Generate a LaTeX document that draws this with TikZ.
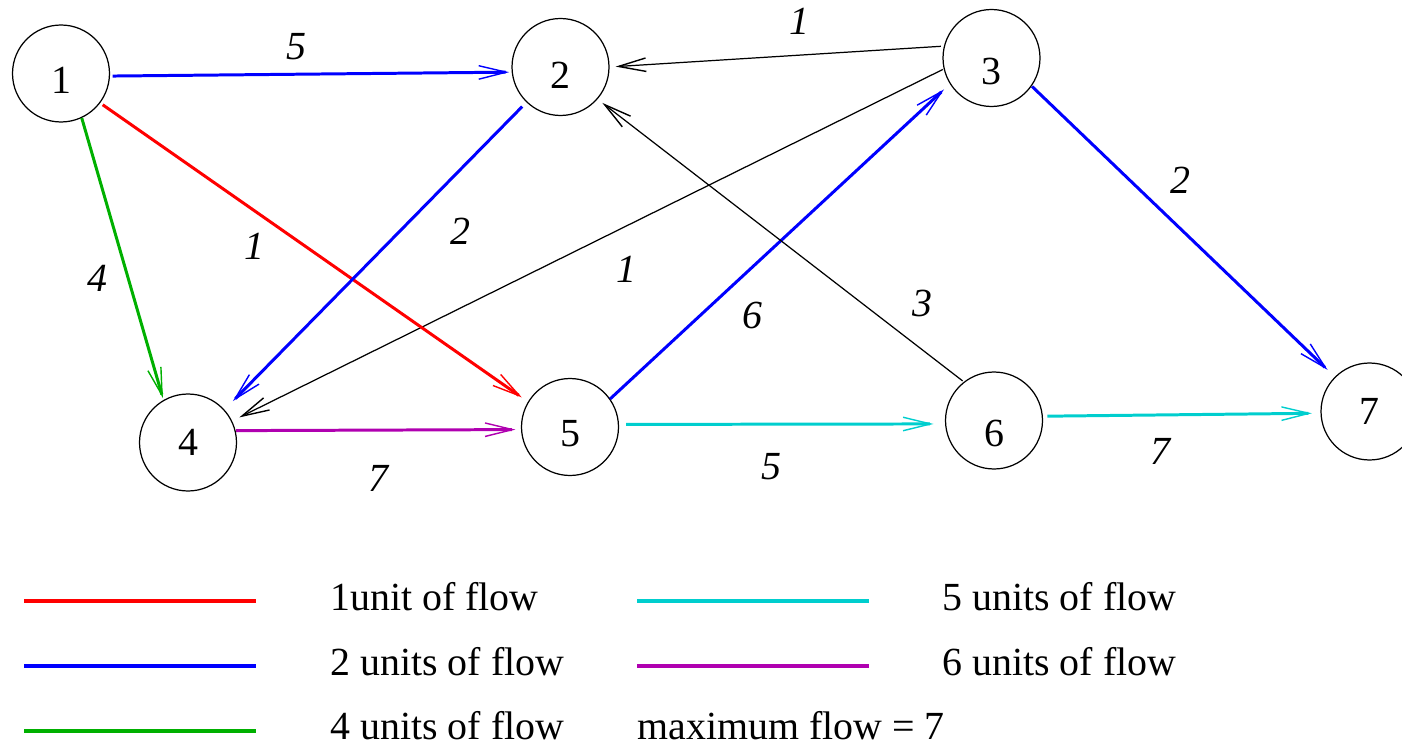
\documentclass[tikz,border=0pt]{standalone}
\usepackage{fontspec}
\setmainfont{Liberation Serif}
\usepackage{tikz}
\usetikzlibrary{arrows.meta}
\definecolor{flowgreen}{RGB}{0,176,0}
\definecolor{flowcyan}{RGB}{0,206,206}
\definecolor{flowpurple}{RGB}{176,0,176}
\begin{document}
\begin{tikzpicture}[x=0.02cm, y=-0.02cm,
        font=\fontsize{22.7pt}{27pt}\selectfont,
        vertex/.style={circle, draw, line width=0.7pt, minimum size=1.94cm, inner sep=0pt, text height=#1, text depth=0pt},
        vertex/.default=0.54cm,
        elabel/.style={font=\fontsize{22.7pt}{27pt}\selectfont\itshape, inner sep=0pt},
        ltext/.style={anchor=base west, inner sep=0pt},
        barb/.style={-{Straight Barb[length=0.55cm, width=0.27cm, line width=0.8pt]}},
        thinflow/.style={barb, line width=0.7pt},
        flow/.style={barb, line width=1.7pt, draw=#1},
        sample/.style={line width=1.8pt, draw=#1}]
    \useasboundingbox (0,0) rectangle (1402,746);
    \node[vertex=0.80cm] (n1) at (61,73.5) {1};
    \node[vertex=0.86cm] (n2) at (560.5,67) {2};
    \node[vertex=1.06cm] (n3) at (991.5,58) {3};
    \node[vertex] (n4) at (188,442.5) {4};
    \node[vertex=0.80cm] (n5) at (570,427) {5};
    \node[vertex=1.04cm] (n6) at (994,420.5) {6};
    \node[vertex] (n7) at (1369.5,411.5) {7};
    \draw[flow=blue, shorten <=0.05cm, shorten >=0.05cm] (n1.-3.4) -- (n2.186);
    \draw[thinflow, shorten <=0.06cm, shorten >=0.12cm] (n3.166) -- (n2.0.3);
    \draw[thinflow, shorten <=0.02cm, shorten >=0.16cm] (n3.193) -- (n4.26);
    \draw[flow=blue, shorten >=0.16cm] (n5.35) -- (n3.212);
    \draw[thinflow, shorten <=0.03cm, shorten >=0.12cm] (n6.128) -- (n2.-41);
    \draw[flow=red, shorten <=0.06cm, shorten >=0.15cm] (n1.-37) -- (n5.149);
    \draw[flow=flowgreen, shorten >=0.04cm] (n1.-65) -- (n4.120);
    \draw[flow=blue, shorten <=0.12cm, shorten >=0.24cm] (n2.226) -- (n4.42);
    \draw[flow=flowpurple, shorten <=0.01cm, shorten >=0.11cm] (n4.14) -- (n5.183);
    \draw[flow=flowcyan, shorten <=0.14cm, shorten >=0.23cm] (n5.3) -- (n6.184);
    \draw[flow=flowcyan, shorten <=0.09cm, shorten >=0.17cm] (n6.5) -- (n7.182.5);
    \draw[flow=blue, shorten <=0.01cm, shorten >=0.2cm] (n3.-35) -- (n7.135);
    \node[elabel] (c12) at (296.5,47) {5};
    \node[elabel] (c32) at (799,21.7) {1};
    \node[elabel] (c15) at (254.3,246.7) {1};
    \node[elabel] (c14) at (97.7,278.3) {4};
    \node[elabel] (c24) at (460.7,231.7) {2};
    \node[elabel] (c34) at (626.7,269.3) {1};
    \node[elabel] (c53) at (752.3,315) {6};
    \node[elabel] (c62) at (922.7,303.3) {3};
    \node[elabel] (c37) at (1180,180) {2};
    \node[elabel] (c45) at (378.6,478) {7};
    \node[elabel] (c56) at (771.7,466.7) {5};
    \node[elabel] (c67) at (1160.7,451.7) {7};
    \draw[sample=red] (24,601) -- (256,601);
    \draw[sample=blue] (24,666) -- (256,666);
    \draw[sample=flowgreen] (24,731) -- (256,731);
    \draw[sample=flowcyan] (637,601) -- (869,601);
    \draw[sample=flowpurple] (637,666) -- (869,666);
    \node[ltext] (t1) at (330,610) {1unit of flow};
    \node[ltext] (t2) at (330,675) {2 units of flow};
    \node[ltext] (t4) at (330,739) {4 units of flow};
    \node[ltext] (t5) at (942,610) {5 units of flow};
    \node[ltext] (t6) at (942,675) {6 units of flow};
    \node[ltext] (tmax) at (637,739) {maximum flow = 7};
\end{tikzpicture}
\end{document}
